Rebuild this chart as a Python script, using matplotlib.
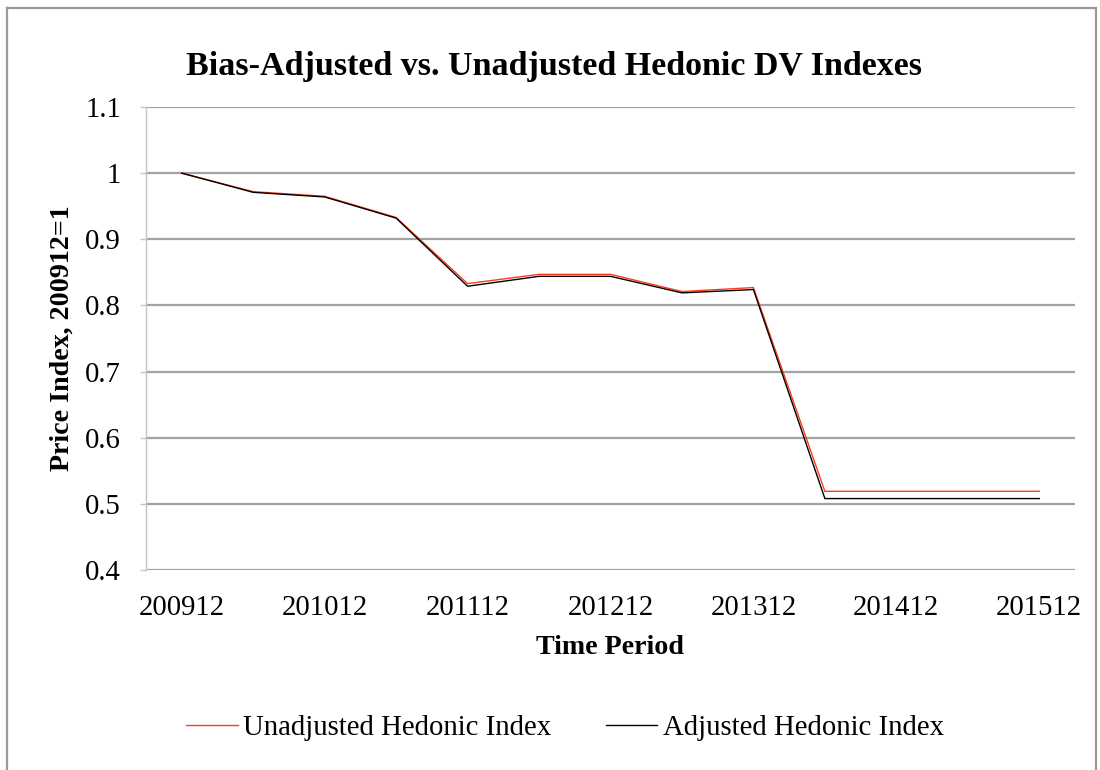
import matplotlib
matplotlib.use("Agg")
import matplotlib.pyplot as plt
from matplotlib.lines import Line2D
from matplotlib.ticker import FuncFormatter, MultipleLocator

# ---- data ----
periods = ["200912", "201006", "201012", "201106", "201112", "201206", "201212",
           "201306", "201312", "201406", "201412", "201506", "201512"]
unadjusted = [1.000, 0.972, 0.965, 0.933, 0.833, 0.847, 0.847,
              0.821, 0.827, 0.519, 0.519, 0.519, 0.519]
adjusted = [1.000, 0.971, 0.964, 0.932, 0.829, 0.844, 0.844,
            0.819, 0.824, 0.508, 0.508, 0.508, 0.508]
series_names = ["Unadjusted Hedonic Index", "Adjusted Hedonic Index"]
title_text = "Bias-Adjusted vs. Unadjusted Hedonic DV Indexes"
xlabel_text = "Time Period"
ylabel_text = "Price Index, 200912=1"

W, H = 1100, 770
plt.rcParams['font.family'] = ['Liberation Serif', 'DejaVu Serif']
fig = plt.figure(figsize=(W / 100, H / 100), dpi=100)

def fx(px):
    return px / W

def fy(py):
    return 1 - py / H

ax = fig.add_axes([fx(146), fy(570), fx(1075) - fx(146), fy(107) - fy(570)])

red = '#ff3b1f'
x = list(range(len(periods)))
ax.plot(x, unadjusted, color=red, lw=1.0, solid_joinstyle='miter', zorder=3)
ax.plot(x, adjusted, color='black', lw=1.0, solid_joinstyle='miter', zorder=4)

ax.set_xlim(-0.5, len(periods) - 0.5)
ax.set_ylim(0.4, 1.1)
ax.yaxis.set_major_locator(MultipleLocator(0.1))
ax.yaxis.set_major_formatter(FuncFormatter(lambda v, p: f"{round(v, 2):g}"))
ax.set_xticks(x[::2])
ax.set_xticklabels(periods[::2])

ax.grid(axis='y', color='#a3a3a3', lw=1.6, zorder=1)
ax.set_axisbelow(True)
for s in ['top', 'right', 'bottom']:
    ax.spines[s].set_visible(False)
ax.spines['left'].set_color('#c4c4c4')
ax.spines['left'].set_linewidth(1.0)
ax.tick_params(axis='y', direction='out', length=4, width=1.0, color='#c4c4c4', pad=14)
ax.tick_params(axis='x', length=0, pad=18)

tick_size = 20.5
for lab in ax.get_xticklabels() + ax.get_yticklabels():
    lab.set_fontsize(tick_size)

# title / axis titles as figure text
title = fig.text(fx(554), fy(66), title_text, ha='center', va='center',
                 fontsize=24, fontweight='bold')
xl = fig.text(fx(610), fy(647), xlabel_text, ha='center', va='center',
              fontsize=20, fontweight='bold')
yl = fig.text(fx(62), fy(338), ylabel_text, ha='center', va='center',
              fontsize=20, fontweight='bold', rotation=90)

handles = [Line2D([], [], color=red, lw=1.0), Line2D([], [], color='black', lw=1.0)]
leg = fig.legend(handles, series_names, loc='center', ncol=2,
                 bbox_to_anchor=(fx(565), fy(728)), frameon=False,
                 fontsize=tick_size, handlelength=1.8, handletextpad=0.2,
                 columnspacing=1.9)

# fit text widths to the measured widths in the reference
fig.canvas.draw()
def fit(t, target):
    w = t.get_window_extent().width
    t.set_fontsize(t.get_fontsize() * target / w)

fit(title, 738)
xt = ax.get_xticklabels()[0]
scale = 86 / xt.get_window_extent().width
for lab in ax.get_xticklabels() + ax.get_yticklabels():
    lab.set_fontsize(lab.get_fontsize() * scale)
for t in leg.get_texts():
    t.set_fontsize(t.get_fontsize() * scale)
xl.set_fontsize(xl.get_fontsize() * scale)
yl.set_fontsize(yl.get_fontsize() * scale)

# outer border (chart area frame, partially cropped)
fig.add_artist(Line2D([fx(7), fx(7)], [fy(8), fy(775)], color='#9a9a9a', lw=1.6))
fig.add_artist(Line2D([fx(7), fx(1096)], [fy(8), fy(8)], color='#9a9a9a', lw=1.6))
fig.add_artist(Line2D([fx(1096), fx(1096)], [fy(8), fy(775)], color='#9a9a9a', lw=1.6))

fig.savefig("out.png", dpi=100)
